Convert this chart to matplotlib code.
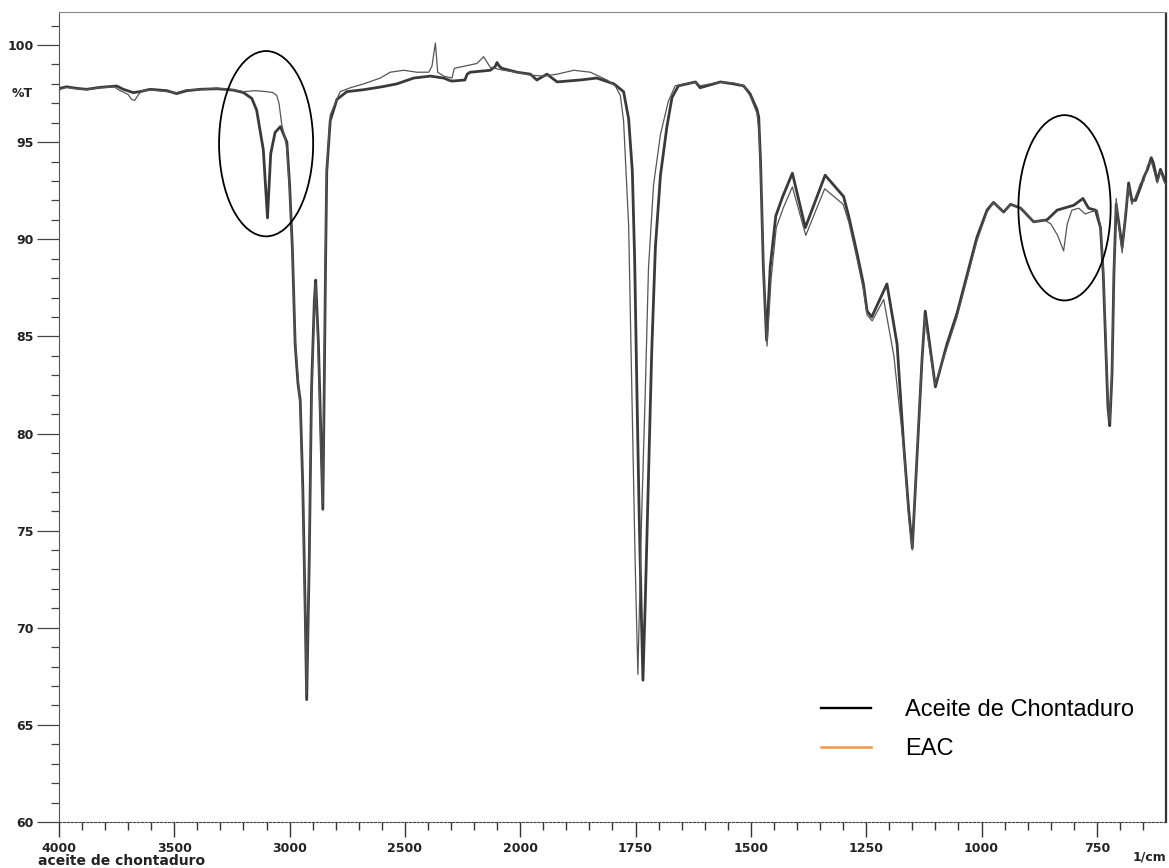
import numpy as np
import matplotlib
matplotlib.use('Agg')
import matplotlib.pyplot as plt
from matplotlib.patches import Ellipse
from matplotlib.lines import Line2D
from matplotlib.ticker import FixedLocator

# spectrum of the oil (thick trace)
wn_aceite = [4000, 3996, 3967, 3923, 3880, 3822, 3750, 3721, 3678, 3649, 3605, 3533, 3490, 3446,
             3388, 3316, 3244, 3200, 3164, 3143, 3114, 3096, 3082, 3063, 3040, 3012, 3000, 2988,
             2976, 2964, 2954, 2943, 2933, 2926, 2915, 2905, 2893, 2887, 2875, 2865, 2856, 2850,
             2844, 2839, 2824, 2795, 2752, 2679, 2600, 2535, 2462, 2390, 2332, 2300, 2289, 2240,
             2230, 2217, 2130, 2108, 2101, 2090, 2079, 2014, 1978, 1964, 1942, 1920, 1870, 1834,
             1797, 1776, 1765, 1757, 1752, 1747, 1742, 1737, 1734, 1729, 1722, 1715, 1707, 1696,
             1682, 1671, 1657, 1620, 1610, 1566, 1538, 1516, 1502, 1487, 1483, 1479, 1473, 1466,
             1458, 1446, 1431, 1410, 1382, 1339, 1299, 1288, 1270, 1256, 1248, 1238, 1205, 1183,
             1169, 1158, 1150, 1140, 1129, 1122, 1100, 1075, 1053, 1032, 1010, 988, 974, 952,
             937, 915, 887, 858, 836, 800, 780, 768, 753, 742, 736, 731, 726, 722, 717, 713,
             708, 702, 695, 688, 681, 674, 666, 655, 648, 640, 632, 627, 619, 612, 605, 600]
t_aceite = [97.7, 97.77, 97.85, 97.77, 97.72, 97.82, 97.89, 97.72, 97.55, 97.6, 97.72, 97.65, 97.5, 97.65,
            97.72, 97.75, 97.68, 97.55, 97.25, 96.65, 94.6, 91.1, 94.4, 95.5, 95.8, 95.0, 92.8, 89.5,
            84.6, 82.6, 81.7, 77.3, 71.2, 66.3, 73.4, 82.3, 86.8, 87.9, 84.6, 80.1, 76.1, 82.3,
            89.0, 93.5, 96.1, 97.2, 97.6, 97.7, 97.85, 98.0, 98.3, 98.4, 98.3, 98.15, 98.15, 98.2,
            98.5, 98.6, 98.7, 98.9, 99.1, 98.9, 98.8, 98.6, 98.5, 98.2, 98.5, 98.1, 98.2, 98.3,
            98.0, 97.6, 96.2, 93.5, 89.0, 82.1, 75.6, 70.2, 67.3, 71.3, 77.8, 84.2, 89.6, 93.3,
            95.8, 97.3, 97.9, 98.1, 97.8, 98.1, 98.0, 97.9, 97.5, 96.7, 96.3, 94.0, 88.6, 84.8,
            88.6, 91.2, 92.2, 93.4, 90.6, 93.3, 92.2, 91.2, 89.3, 87.7, 86.3, 86.0, 87.7, 84.6,
            79.5, 76.1, 74.1, 78.7, 83.8, 86.3, 82.4, 84.6, 86.2, 88.1, 90.1, 91.5, 91.9, 91.4,
            91.8, 91.6, 90.9, 91.0, 91.5, 91.75, 92.1, 91.6, 91.5, 90.6, 88.2, 84.8, 81.4, 80.4, 83.1, 88.2,
            91.8, 90.8, 89.6, 91.1, 92.9, 92.0, 92.0, 92.7, 93.2, 93.6, 94.2, 93.9, 93.0, 93.6, 93.2, 92.9]

# spectrum of EAC (thin trace)
wn_eac = [4000, 3967, 3923, 3880, 3822, 3760, 3743, 3700, 3685, 3672, 3655, 3640, 3605, 3533,
          3490, 3446, 3388, 3316, 3244, 3200, 3150, 3100, 3072, 3056, 3046, 3034, 3020, 3012,
          3000, 2988, 2976, 2964, 2954, 2943, 2933, 2927, 2916, 2905, 2893, 2887, 2876, 2866,
          2857, 2851, 2845, 2839, 2824, 2781, 2737, 2679, 2607, 2564, 2506, 2448, 2397, 2383,
          2368, 2358, 2332, 2296, 2286, 2246, 2188, 2159, 2130, 2072, 2014, 1978, 1949, 1920,
          1884, 1848, 1812, 1794, 1783, 1776, 1765, 1758, 1751, 1745, 1737, 1729, 1722, 1711,
          1696, 1679, 1664, 1620, 1610, 1566, 1538, 1516, 1502, 1487, 1482, 1478, 1472, 1465,
          1456, 1445, 1430, 1410, 1381, 1340, 1300, 1288, 1270, 1256, 1248, 1237, 1212, 1190,
          1169, 1158, 1150, 1141, 1130, 1123, 1101, 1075, 1053, 1032, 1010, 988, 974, 952,
          937, 915, 887, 865, 850, 835, 822, 814, 804, 789, 775, 764, 749, 742, 736, 731,
          726, 722, 717, 713, 708, 702, 695, 688, 681, 674, 666, 655, 648, 640, 632, 627,
          619, 612, 605, 600]
t_eac = [97.7, 97.82, 97.75, 97.7, 97.8, 97.85, 97.7, 97.45, 97.2, 97.15, 97.45, 97.65, 97.7, 97.6,
         97.55, 97.7, 97.7, 97.78, 97.7, 97.6, 97.65, 97.6, 97.55, 97.4, 97.0, 95.9, 95.2, 94.7,
         92.5, 89.3, 84.8, 82.9, 81.4, 76.8, 70.8, 66.6, 73.0, 81.8, 86.6, 87.7, 84.3, 79.9,
         76.4, 82.0, 89.1, 93.6, 96.4, 97.6, 97.8, 98.0, 98.3, 98.6, 98.7, 98.6, 98.6, 98.9,
         100.1, 98.6, 98.4, 98.3, 98.8, 98.9, 99.05, 99.4, 98.85, 98.7, 98.6, 98.45, 98.4, 98.5,
         98.7, 98.6, 98.2, 97.9, 97.4, 96.1, 90.7, 82.1, 73.5, 67.6, 75.6, 82.1, 88.5, 92.8,
         95.4, 97.1, 97.9, 98.1, 97.9, 98.1, 98.05, 97.9, 97.4, 96.5, 95.5, 93.0, 88.0, 84.5,
         88.0, 90.6, 91.6, 92.7, 90.2, 92.6, 91.8, 90.9, 89.0, 87.4, 86.1, 85.8, 86.9, 84.0,
         79.3, 75.8, 74.0, 78.3, 83.5, 86.0, 82.5, 84.4, 86.0, 87.9, 89.9, 91.4, 91.9, 91.4,
         91.8, 91.6, 90.9, 91.0, 90.8, 90.2, 89.4, 90.8, 91.5, 91.6, 91.3, 91.4, 91.5, 90.7, 88.4, 85.2,
         81.8, 80.6, 83.4, 88.5, 92.1, 90.6, 89.3, 91.3, 92.7, 91.8, 92.2, 92.9, 93.0, 93.8, 94.0, 93.6,
         92.9, 93.5, 93.0, 92.8]

major_x = [4000, 3500, 3000, 2500, 2000, 1750, 1500, 1250, 1000, 750]
major_y = [60, 65, 70, 75, 80, 85, 90, 95, 100]


# the instrument prints 4000-2000 at half the scale of 2000-600
def fwd(x):
    x = np.asarray(x, dtype=float)
    return np.where(x > 2000, 2000 + (x - 2000) / 2, x)


def inv(u):
    u = np.asarray(u, dtype=float)
    return np.where(u > 2000, 2000 + (u - 2000) * 2, u)


fig = plt.figure(figsize=(11.69, 8.68), dpi=100)
ax = fig.add_axes([59 / 1169, 1 - 822 / 868, 1107 / 1169, 810 / 868])
ax.set_xscale('function', functions=(fwd, inv))

ax.plot(wn_eac, t_eac, color='#555555', lw=0.9, zorder=3)
ax.plot(wn_aceite, t_aceite, color='#3a3a3a', lw=2.0, zorder=2)

ax.set_xlim(4000, 600)
ax.set_ylim(60, 101.7)

# ticks
minor_x = [v for v in range(3900, 2000, -100) if v not in major_x] + \
          [v for v in range(1950, 600, -50) if v not in major_x]
ax.xaxis.set_major_locator(FixedLocator(major_x))
ax.xaxis.set_minor_locator(FixedLocator(minor_x))
ax.set_xticklabels([str(v) for v in major_x])
ax.yaxis.set_major_locator(FixedLocator(major_y))
ax.yaxis.set_minor_locator(FixedLocator([v for v in range(61, 102) if v not in major_y]))
ax.tick_params(axis='x', which='major', direction='out', length=11, width=1.0, pad=3.5,
               colors='#333333', labelsize=9)
ax.tick_params(axis='x', which='minor', direction='out', length=5.5, width=1.0, colors='#333333')
ax.tick_params(axis='y', which='major', direction='out', length=16, width=0.9, pad=2,
               colors='#444444', labelsize=9)
ax.tick_params(axis='y', which='minor', direction='out', length=5.5, width=0.9, colors='#444444')
for lab in ax.get_xticklabels() + ax.get_yticklabels():
    lab.set_fontweight('bold')
    lab.set_color('#222222')

# spines as printed by the plotter
ax.spines['bottom'].set_linestyle((0, (2, 1.5)))
ax.spines['bottom'].set_color('#444444')
ax.spines['left'].set_color('#555555')
ax.spines['top'].set_color('#888888')
ax.spines['top'].set_linewidth(0.8)
ax.spines['right'].set_linestyle((0, (1.5, 1)))
ax.spines['right'].set_linewidth(1.6)
ax.spines['right'].set_color('#333333')

ax.text(-0.024, 97.5, '%T', transform=ax.get_yaxis_transform(), ha='right', va='center',
        fontsize=9, fontweight='bold', color='#222222')
fig.text(38 / 1169, 1 - 861 / 868, 'aceite de chontaduro', ha='left', va='center',
         fontsize=10, fontweight='bold', color='#222222')
fig.text(1166 / 1169, 1 - 857 / 868, '1/cm', ha='right', va='center',
         fontsize=9, fontweight='bold', color='#222222')

# highlighted regions
ax.add_patch(Ellipse((3102, 94.92), width=408, height=9.54, fill=False, ec='black', lw=1.3, zorder=4))
ax.add_patch(Ellipse((820, 91.62), width=200, height=9.54, fill=False, ec='black', lw=1.3, zorder=4))

handles = [Line2D([], [], color='black', lw=1.7),
           Line2D([], [], color='#F79646', lw=1.8)]
ax.legend(handles, ['Aceite de Chontaduro', 'EAC'], loc='upper left',
          bbox_to_anchor=(821 / 1169, 1 - 699 / 868), bbox_transform=fig.transFigure,
          frameon=False, borderpad=0, borderaxespad=0, handlelength=2.1, handletextpad=1.45,
          labelspacing=0.72, prop={'family': 'Liberation Sans', 'size': 17})

fig.savefig('out.png', dpi=100)
